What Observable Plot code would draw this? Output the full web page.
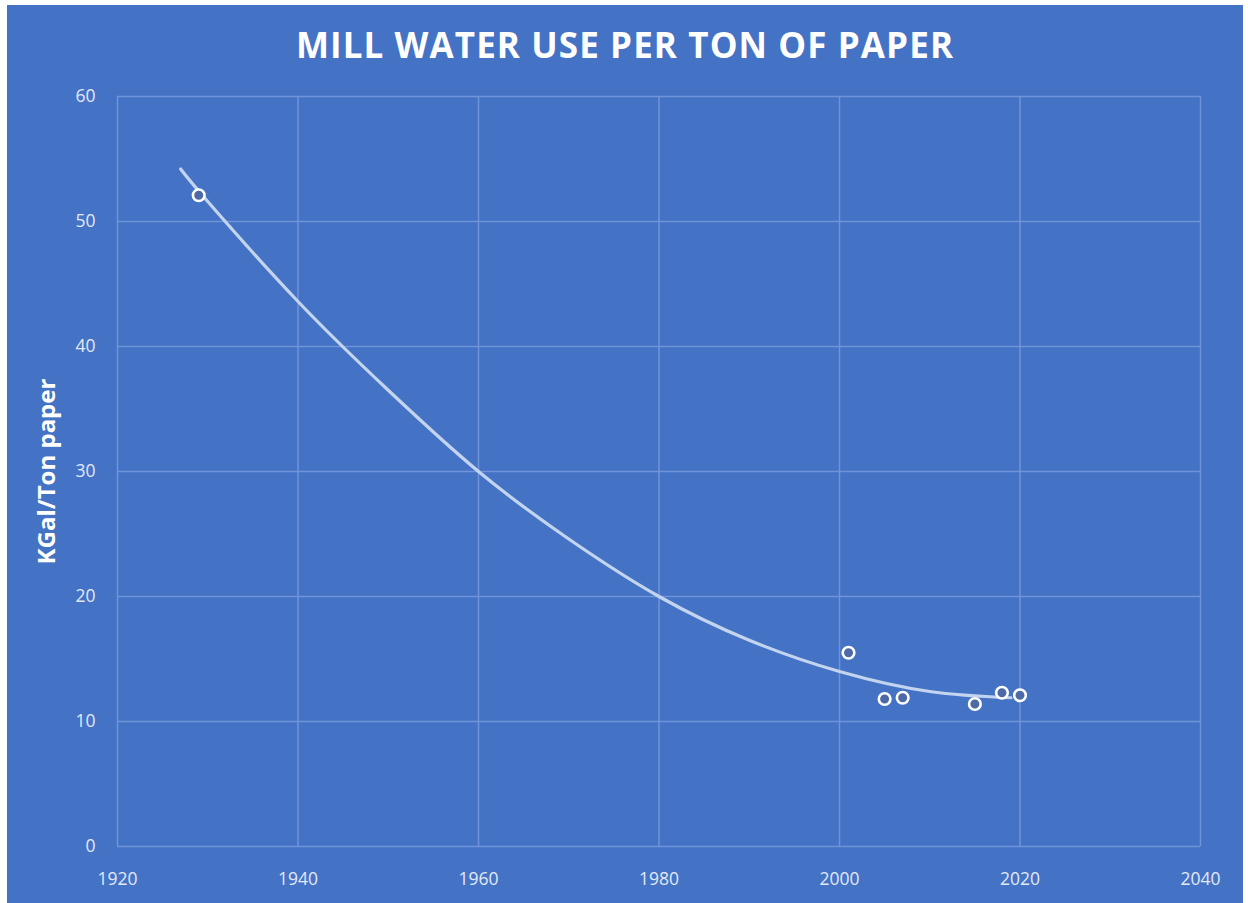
<!DOCTYPE html>
<html>
<head>
<meta charset="utf-8">
<script src="https://cdn.jsdelivr.net/npm/d3@7"></script>
<script src="https://cdn.jsdelivr.net/npm/@observablehq/plot@0.6"></script>
<style>
  html, body { margin: 0; padding: 0; background: #ffffff; }
  #panel {
    position: absolute; left: 7px; top: 5px; width: 1236px; height: 898px;
    background: #4472c4; overflow: hidden;
  }
  #title {
    height: 70px; line-height: 80px; text-align: center; color: #ffffff;
    font-family: "Open Sans", sans-serif; font-weight: 700; font-size: 35px;
    letter-spacing: 1.1px;
  }
  #chart svg { display: block; }
</style>
</head>
<body>
<div id="panel">
  <div id="title">MILL WATER USE PER TON OF PAPER</div>
  <div id="chart"></div>
</div>
<script>
// Observed data points
const years = [1929, 2001, 2005, 2007, 2015, 2018, 2020];
const kgalPerTon = [52.1, 15.5, 11.8, 11.9, 11.4, 12.3, 12.1];

// Trend line
const trendYears = [1927, 1930, 1940, 1950, 1960, 1970, 1980, 1990, 2000, 2010, 2019];
const trendValues = [54.2, 51.6, 43.6, 36.5, 30.0, 24.6, 20.0, 16.5, 14.0, 12.4, 11.9];

// Axis ticks
const xTicks = [1920, 1940, 1960, 1980, 2000, 2020, 2040];
const yTicks = [0, 10, 20, 30, 40, 50, 60];

const points = years.map((y, i) => ({year: y, value: kgalPerTon[i]}));
const trend = trendYears.map((y, i) => ({year: y, value: trendValues[i]}));

const gridColor = "#6f95d8";
const tickColor = "#e2e9f6";

const chart = Plot.plot({
  width: 1236,
  height: 828,
  marginLeft: 110,
  marginRight: 43,
  marginTop: 21,
  marginBottom: 57,
  style: {background: "transparent", fontFamily: "'Open Sans', sans-serif", fontSize: "17px", color: tickColor},
  x: {domain: [1920, 2040]},
  y: {domain: [0, 60]},
  marks: [
    Plot.gridX(xTicks, {stroke: gridColor, strokeOpacity: 1, strokeWidth: 1.5}),
    Plot.gridY(yTicks, {stroke: gridColor, strokeOpacity: 1, strokeWidth: 1.5}),
    Plot.axisX(xTicks, {tickSize: 0, tickPadding: 26, tickFormat: d => String(d), fill: tickColor, fontSize: 17.5, label: null}),
    Plot.axisY(yTicks, {tickSize: 0, tickPadding: 22, fill: tickColor, fontSize: 17.5, label: null}),
    Plot.text(["KGal/Ton paper"], {
      frameAnchor: "left", dx: -70, rotate: -90, fill: "#ffffff",
      textAnchor: "middle", fontWeight: "bold", fontSize: 24
    }),
    Plot.line(trend, {x: "year", y: "value", curve: "natural", stroke: "#c3d4ef", strokeWidth: 3.2}),
    Plot.dot(points, {x: "year", y: "value", r: 5.8, stroke: "#ffffff", strokeWidth: 2.6, fill: "#4d6aa6"})
  ]
});
document.getElementById("chart").appendChild(chart);
</script>
</body>
</html>
